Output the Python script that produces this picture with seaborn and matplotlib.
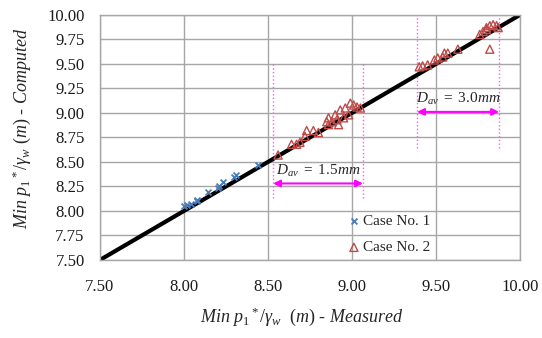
import numpy as np
import pandas as pd
import matplotlib
matplotlib.use("Agg")
import matplotlib.pyplot as plt
import seaborn as sns

# measured vs computed minimum pressure head (m)
case1_measured = [8.00, 8.02, 8.04, 8.08, 8.08, 8.14, 8.20, 8.21, 8.23, 8.30, 8.31, 8.44]
case1_computed = [8.05, 8.06, 8.07, 8.10, 8.11, 8.19, 8.23, 8.25, 8.29, 8.35, 8.37, 8.47]

case2_measured = [8.56, 8.64, 8.67, 8.69, 8.72, 8.73, 8.77, 8.80, 8.85, 8.86, 8.90, 8.91,
                  8.93, 8.95, 8.96, 8.99, 9.01, 9.03, 9.05, 8.88, 8.92, 8.98, 8.86,
                  9.40, 9.42, 9.45, 9.49, 9.51, 9.54, 9.55, 9.57, 9.63, 9.82,
                  9.76, 9.78, 9.80, 9.82, 9.84, 9.86, 9.87, 9.80]
case2_computed = [8.57, 8.68, 8.68, 8.70, 8.76, 8.82, 8.82, 8.80, 8.91, 8.95, 8.98, 8.93,
                  9.03, 8.95, 9.05, 9.10, 9.08, 9.06, 9.05, 8.91, 8.88, 8.98, 8.88,
                  9.47, 9.48, 9.49, 9.54, 9.56, 9.57, 9.61, 9.61, 9.65, 9.65,
                  9.80, 9.83, 9.87, 9.89, 9.90, 9.89, 9.87, 9.85]

line_x = [7.5, 10.0]
line_y = [7.5, 10.0]

# grain size bands: (left, right, bottom, top, arrow y, label)
band_15 = (8.53, 9.065, 8.13, 9.51, 8.28, r"$D_{av}\ =\ 1.5mm$")
band_30 = (9.387, 9.875, 8.64, 10.0, 9.01, r"$D_{av}\ =\ 3.0mm$")

sns.set_style("white")
plt.rcParams["font.family"] = ["Liberation Serif", "DejaVu Serif"]
plt.rcParams["mathtext.fontset"] = "custom"
plt.rcParams["mathtext.rm"] = "Liberation Serif"
plt.rcParams["mathtext.it"] = "Liberation Serif:italic"

fig = plt.figure(figsize=(5.42, 3.38), dpi=100)
ax = fig.add_axes([0.1845, 0.231, 0.775, 0.725])

ax.set_xlim(7.5, 10.0)
ax.set_ylim(7.5, 10.0)
ax.set_xticks(np.arange(7.5, 10.01, 0.5))
ax.set_yticks(np.arange(7.5, 10.01, 0.25))
ax.xaxis.set_major_formatter(matplotlib.ticker.FormatStrFormatter("%.2f"))
ax.yaxis.set_major_formatter(matplotlib.ticker.FormatStrFormatter("%.2f"))
ax.grid(True, color="#a6a6a6", linewidth=1.0)
ax.set_axisbelow(True)
for s in ax.spines.values():
    s.set_color("#a6a6a6")
    s.set_linewidth(1.0)
ax.tick_params(axis="both", direction="out", length=4, width=1, color="#a6a6a6",
               labelsize=12, labelcolor="#1a1a1a")
ax.tick_params(axis="x", pad=10)
ax.tick_params(axis="y", pad=7)

# annotation bands
for left, right, bot, top, ay, label in [band_15, band_30]:
    for xv in (left, right):
        ax.plot([xv, xv], [bot, top], linestyle=":", color="#ff55ff", linewidth=1.0, zorder=1)
    ax.annotate("", xy=(left, ay), xytext=(right, ay),
                arrowprops=dict(arrowstyle="<|-|>", color="#ff00ff", lw=1.5,
                                mutation_scale=10, shrinkA=0, shrinkB=0))
    ax.text((left + right) / 2, ay + 0.05, label, ha="center", va="bottom", fontsize=11)

ax.plot(line_x, line_y, color="black", linewidth=3, zorder=2, solid_capstyle="butt")

df1 = pd.DataFrame({"measured": case1_measured, "computed": case1_computed})
df2 = pd.DataFrame({"measured": case2_measured, "computed": case2_computed})
sns.scatterplot(data=df1, x="measured", y="computed", ax=ax, marker="x", s=18,
                color="#4a7ebb", linewidth=1.3, label="Case No. 1", zorder=3)
sns.scatterplot(data=df2, x="measured", y="computed", ax=ax, marker="^", s=34,
                color="#be4b48", facecolor="none", edgecolor="#be4b48",
                linewidth=1.0, label="Case No. 2", zorder=3)

ax.legend(loc="center left", bbox_to_anchor=(0.55, 0.105), frameon=False,
          fontsize=11, handletextpad=0.0, labelspacing=0.85, handlelength=1.2)

ax.set_xlabel(r"$Min\ p_1{}^*/\gamma_w\ \ (m)$ - Measured", fontsize=13, fontstyle="italic")
ax.set_ylabel(r"$Min\ p_1{}^*/\gamma_w\ (m)$ - Computed", fontsize=13, fontstyle="italic")
ax.xaxis.set_label_coords(0.48, -0.185)
ax.yaxis.set_label_coords(-0.16, 0.535)

fig.savefig("out.png", dpi=100)
